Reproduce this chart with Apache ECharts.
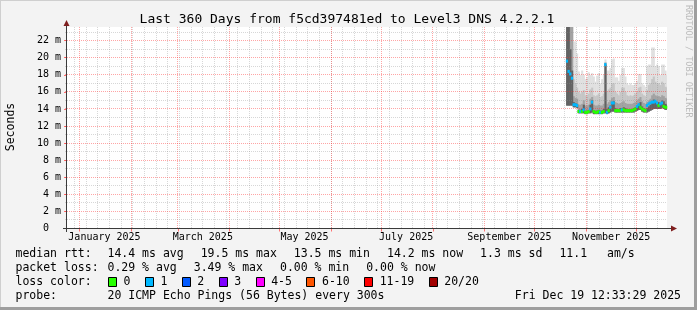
<!DOCTYPE html>
<html><head><meta charset="utf-8">
<script src="https://cdn.jsdelivr.net/npm/echarts@6/dist/echarts.min.js"></script>
<style>html,body{margin:0;padding:0;background:#f3f3f3}#c{width:697px;height:310px}</style>
</head><body><div id="c"></div>
<script>
// ---------- data ----------
const END_TIME = '2025-12-19T12:33:29Z';
const SPAN_DAYS = 360;
const DATA_START = '2025-10-20T00:00:00Z';   // first daily bucket
const Y_MAX = 23.6;                          // milliseconds

// median rtt per day (ms)
const median = [19.6,18.4,18.1,17.6,14.5,14.5,14.4,13.7,13.7,13.7,13.9,13.6,13.6,13.7,14.0,14.8,13.7,13.6,13.6,13.7,
                13.6,13.6,13.7,19.2,13.6,13.8,14.2,14.7,14.7,13.8,13.8,13.8,13.8,13.9,13.9,13.8,13.8,13.8,13.8,13.8,
                13.9,14.0,14.3,14.5,14.2,14.0,13.9,13.8,14.4,14.6,14.7,14.8,14.8,14.9,14.7,14.4,14.6,14.7,14.3,14.2,14.2];
// lost pings (of 20) per day
const loss = [1,1,1,1,1,1,1,0,1,0,1,0,0,0,1,1,0,0,0,0,
              1,0,0,1,1,0,1,1,1,0,0,0,0,1,0,0,0,0,0,0,
              0,0,1,1,0,0,0,0,1,1,1,1,1,1,1,0,1,1,0,0,0];
// smoke envelope per day (ms): min ping, inner band top, middle band top, outer band top, max ping
const pingMin = [14.4,14.4,14.4,14.4,14.2,14.2,14.1,13.5,13.5,13.5,13.5,13.4,13.4,13.5,13.5,13.6,13.4,13.4,13.4,13.4,
                 13.4,13.4,13.5,13.5,13.4,13.5,13.6,13.7,13.7,13.6,13.6,13.6,13.6,13.6,13.6,13.6,13.6,13.6,13.6,13.6,
                 13.6,13.7,13.8,13.9,13.9,13.7,13.6,13.6,13.6,13.7,13.8,13.9,14.0,14.0,14.0,14.0,14.0,14.1,14.0,13.9,13.9];
const bandInner = [30,30,21,18.5,14.8,14.7,14.6,13.9,13.9,14.0,14.5,13.8,13.8,13.9,14.5,15.0,13.8,13.8,13.8,13.9,
                   13.8,13.8,14.0,19.2,14.0,14.2,14.4,14.8,14.9,14.1,14.0,14.0,14.1,14.1,14.2,14.1,14.0,14.0,14.0,14.0,
                   14.1,14.2,14.4,14.6,14.8,14.3,14.1,14.0,14.1,14.3,14.5,14.8,15.1,14.9,14.8,14.8,14.7,15.0,14.9,14.6,14.5];
const bandMid = [30,30,30,30,15.5,15.3,15.2,14.5,14.5,14.6,15.0,14.4,14.4,14.5,15.2,15.4,14.5,14.4,14.4,14.5,
                 14.4,14.4,14.6,19.4,14.6,14.8,15.0,15.3,15.4,14.8,14.7,14.6,14.7,14.8,14.9,14.7,14.6,14.6,14.6,14.6,
                 14.7,14.8,15.0,15.2,15.4,14.9,14.7,14.6,14.8,15.0,15.2,15.6,15.8,15.6,15.5,15.5,15.4,15.6,15.5,15.3,15.2];
const bandOuter = [30,30,30,30,17.5,17.0,16.5,16.0,15.8,16.0,16.2,15.6,15.5,15.8,16.3,16.5,15.6,15.5,15.6,15.8,
                   15.4,15.5,15.8,19.5,16.0,16.3,16.5,17.0,17.0,16.0,15.8,15.6,16.0,16.5,16.5,16.0,15.6,15.5,15.6,15.5,
                   15.6,15.8,16.0,16.5,16.6,15.8,15.6,15.5,16.2,16.8,17.0,17.5,17.8,17.2,17.0,17.0,16.8,17.2,17.0,16.6,16.5];
const pingMax = [30,30,30,30,21.9,21.9,20.5,18.4,18.0,18.5,18.0,17.5,17.6,18.3,18.0,18.2,17.8,17.2,17.9,18.2,
                 17.0,17.5,18.0,19.8,18.5,18.5,18.8,19.8,19.9,17.7,17.7,17.3,18.0,18.8,18.8,17.8,17.0,16.8,17.0,16.8,
                 16.8,17.0,17.3,18.1,18.1,17.0,16.8,16.6,19.0,19.2,19.2,21.2,21.2,19.0,19.2,19.0,18.0,19.2,19.2,18.5,18.0];

// axis ticks and labels
const monthStarts = ['2025-01-01','2025-02-01','2025-03-01','2025-04-01','2025-05-01','2025-06-01',
                     '2025-07-01','2025-08-01','2025-09-01','2025-10-01','2025-11-01','2025-12-01'];
const firstWeekLine = '2024-12-29';
const xLabelMonths = ['2025-01-01','2025-03-01','2025-05-01','2025-07-01','2025-09-01','2025-11-01'];
const xLabelTexts = ['January 2025','March 2025','May 2025','July 2025','September 2025','November 2025'];
const yTickValues = [0,2,4,6,8,10,12,14,16,18,20,22];

// legend
const rttStats = ['14.4 ms avg','19.5 ms max','13.5 ms min','14.2 ms now','1.3 ms sd','11.1'];
const lossStats = ['0.29 % avg','3.49 % max','0.00 % min','0.00 % now'];
const lossNames = ['0','1','2','3','4-5','6-10','11-19','20/20'];
const lossColors = ['#26ff00','#00b8ff','#0059ff','#7e00ff','#ff00ff','#ff5500','#ff0000','#a10000'];
const smokeColors = ['#e0e0e0','#c6c6c6','#a2a2a2','#626262'];

// ---------- build ----------
const DAY = 86400000;
const tEnd = Date.parse(END_TIME);
const tStart = tEnd - SPAN_DAYS * DAY;
const t0 = Date.parse(DATA_START);
const ms = s => Date.parse(s + (s.length === 10 ? 'T00:00:00Z' : ''));

const smokeItems = [];
const layers = [pingMax, bandOuter, bandMid, bandInner];
layers.forEach((arr, li) => {
  arr.forEach((v, i) => {
    const a = t0 + i * DAY, b = Math.min(a + DAY, tEnd);
    smokeItems.push([a, b, pingMin[i], v, li]);
  });
});
const medianItems = median.map((v, i) => {
  const a = t0 + i * DAY, b = Math.min(a + DAY, tEnd);
  return [a, b, v, Math.min(loss[i], 7)];
});

const gridItems = [];
for (let t = ms(firstWeekLine); t < tEnd; t += 7 * DAY) gridItems.push([0, t]);
monthStarts.forEach(s => gridItems.push([1, ms(s)]));
for (let v = 1; v < Y_MAX; v += 2) gridItems.push([2, v]);
yTickValues.forEach(v => { if (v > 0) gridItems.push([3, v]); });

const labelPos = xLabelMonths.map(s => ms(s) + 15 * DAY);

const chart = echarts.init(document.getElementById('c'), null, {renderer: 'canvas'});
const MONO = "'DejaVu Sans Mono', monospace";
const FONT_L = '11.5px ' + MONO;
const CW = 6.923;   // advance of one legend character
const GL = 67, GT = 27, GW = 600, GH = 201.5;

function crisp(v) { return Math.round(v - 0.5) + 0.5; }

const legendGraphics = [];
function txt(x, y, s, extra) {
  legendGraphics.push(Object.assign({type: 'text', x: x, y: y, silent: true,
    style: Object.assign({text: s, fill: '#000', font: FONT_L, verticalAlign: 'middle'}, extra || {})}));
}
const COL0 = 15.5, COL1 = 107.5, GAP = 17;
txt(COL0, 254, 'median rtt:');
let x = COL1;
rttStats.forEach(s => { txt(x, 254, s); x += s.length * CW + GAP; });
txt(607, 254, 'am/s');
txt(COL0, 268, 'packet loss:');
x = COL1;
lossStats.forEach(s => { txt(x, 268, s); x += s.length * CW + GAP; });
txt(COL0, 282, 'loss color:');
x = 108;
lossNames.forEach((n, i) => {
  legendGraphics.push({type: 'rect', silent: true, shape: {x: Math.round(x) + 0.5, y: 277.5, width: 8, height: 9},
    style: {fill: lossColors[i], stroke: '#000', lineWidth: 1}});
  txt(x + 15.5, 282, n);
  x += 15.5 + n.length * CW + 14.5;
});
txt(COL0, 296, 'probe:');
txt(COL1, 296, '20 ICMP Echo Pings (56 Bytes) every 300s');
txt(681, 296, 'Fri Dec 19 12:33:29 2025', {align: 'right'});

const option = {
  animation: false,
  backgroundColor: '#f3f3f3',
  grid: {left: GL, top: GT, width: GW, height: GH, show: true, backgroundColor: '#ffffff', borderWidth: 0},
  xAxis: {
    type: 'value', min: tStart, max: tEnd,
    axisLine: {show: false},
    splitLine: {show: false},
    axisTick: {show: true, customValues: monthStarts.map(ms), length: 3, inside: false,
               lineStyle: {color: '#ff7070', width: 1}},
    axisLabel: {customValues: labelPos, margin: 4, color: '#000', fontFamily: MONO, fontSize: 10,
      formatter: v => { let k = 0, d = Infinity; labelPos.forEach((p, i) => { if (Math.abs(p - v) < d) { d = Math.abs(p - v); k = i; } }); return xLabelTexts[k]; }}
  },
  yAxis: {
    type: 'value', min: 0, max: Y_MAX, interval: 2,
    axisLine: {show: false},
    splitLine: {show: false},
    axisTick: {show: true, length: 3, lineStyle: {color: '#ff7070'}},
    axisLabel: {margin: 6, color: '#000', fontFamily: MONO, fontSize: 10, showMaxLabel: false,
      formatter: v => v === 0 ? '0  ' : (v + ' m')}
  },
  series: [
    { // smoke
      type: 'custom', silent: true, z: 2, data: smokeItems,
      renderItem: (params, api) => {
        const p0 = api.coord([api.value(0), api.value(3)]);
        const p1 = api.coord([api.value(1), api.value(2)]);
        const r = echarts.graphic.clipRectByRect({x: p0[0], y: p0[1], width: p1[0] - p0[0] + 0.4, height: p1[1] - p0[1]}, params.coordSys);
        if (!r) return null;
        return {type: 'rect', shape: r, style: {fill: smokeColors[api.value(4)]}};
      }
    },
    { // grid
      type: 'custom', silent: true, z: 3, data: gridItems,
      renderItem: (params, api) => {
        const kind = api.value(0), v = api.value(1), cs = params.coordSys;
        let x1, y1, x2, y2;
        if (kind < 2) { const xx = crisp(api.coord([v, 0])[0]); x1 = x2 = xx; y1 = cs.y; y2 = cs.y + cs.height; }
        else { const y = crisp(api.coord([tStart, v])[1]); y1 = y2 = y; x1 = cs.x - 2; x2 = cs.x + cs.width; }
        const major = kind === 1 || kind === 3;
        return {type: 'line', shape: {x1, y1, x2, y2},
          style: {stroke: major ? 'rgba(255,40,40,0.42)' : 'rgba(140,140,140,0.35)', lineWidth: 1, lineDash: [1, 1]}};
      }
    },
    { // median rtt coloured by loss
      type: 'custom', silent: true, z: 4, data: medianItems,
      renderItem: (params, api) => {
        const a = api.value(0), b = api.value(1), m = api.value(2);
        const pa = api.coord([a, m]), pb = api.coord([b, m]);
        return {type: 'line', shape: {x1: pa[0] - 0.3, y1: pa[1], x2: pb[0] + 0.3, y2: pb[1]},
          style: {stroke: lossColors[api.value(3)], lineWidth: 3}};
      }
    }
  ],
  graphic: [
    {type: 'text', x: 347, y: 19.5, silent: true,
     style: {text: 'Last 360 Days from f5cd397481ed to Level3 DNS 4.2.2.1', fill: '#000', font: '13px ' + MONO, align: 'center', verticalAlign: 'middle'}},
    {type: 'text', x: 11, y: 127, rotation: Math.PI / 2, silent: true,
     style: {text: 'Seconds', fill: '#000', font: FONT_L, align: 'center', verticalAlign: 'middle'}},
    {type: 'text', x: 688, y: 5, rotation: -Math.PI / 2, silent: true,
     style: {text: 'RRDTOOL / TOBI OETIKER', fill: '#bcbcbc', font: '8.5px ' + MONO, align: 'left', verticalAlign: 'middle'}},
    // axes with arrows
    {type: 'line', silent: true, z: 10, shape: {x1: 63, y1: 228.5, x2: 672, y2: 228.5}, style: {stroke: '#3a3a3a', lineWidth: 1}},
    {type: 'line', silent: true, z: 10, shape: {x1: 66.5, y1: 232, x2: 66.5, y2: 25}, style: {stroke: '#3a3a3a', lineWidth: 1}},
    {type: 'polygon', silent: true, z: 10, shape: {points: [[671, 225.5], [677, 228.5], [671, 231.5]]}, style: {fill: '#7f1f1f'}},
    {type: 'polygon', silent: true, z: 10, shape: {points: [[63.5, 26], [66.5, 20], [69.5, 26]]}, style: {fill: '#7f1f1f'}},
    // frame shading
    {type: 'rect', silent: true, shape: {x: 0, y: 0, width: 697, height: 1}, style: {fill: '#cfcfcf'}},
    {type: 'rect', silent: true, shape: {x: 0, y: 0, width: 1, height: 310}, style: {fill: '#cfcfcf'}},
    {type: 'rect', silent: true, shape: {x: 694, y: 0, width: 3, height: 310}, style: {fill: '#9e9e9e'}},
    {type: 'rect', silent: true, shape: {x: 0, y: 307, width: 697, height: 3}, style: {fill: '#9e9e9e'}}
  ].concat(legendGraphics)
};
chart.setOption(option);
</script>
</body></html>
